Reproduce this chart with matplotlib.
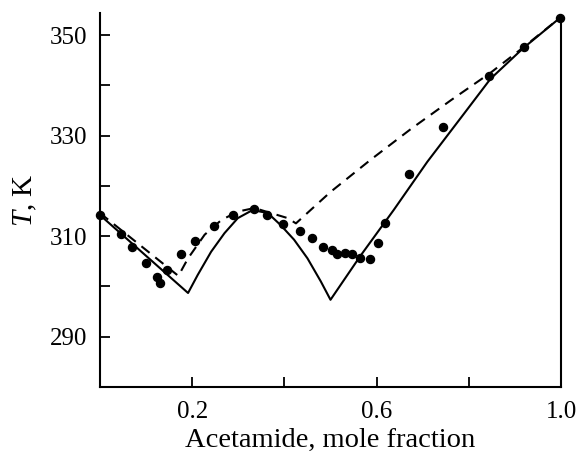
import matplotlib
matplotlib.use("Agg")
import matplotlib.pyplot as plt

# experimental points
exp_x = [0.0, 0.045, 0.070, 0.100, 0.124, 0.131, 0.146, 0.176, 0.205, 0.247,
         0.288, 0.335, 0.362, 0.398, 0.434, 0.459, 0.483, 0.503, 0.514, 0.531,
         0.547, 0.564, 0.586, 0.602, 0.618, 0.671, 0.744, 0.843, 0.920, 0.998]
exp_T = [314.3, 310.5, 307.9, 304.7, 301.9, 300.7, 303.2, 306.5, 309.1, 312.1,
         314.2, 315.4, 314.3, 312.4, 311.0, 309.7, 307.9, 307.2, 306.5, 306.6,
         306.4, 305.7, 305.4, 308.7, 312.6, 322.4, 331.8, 341.9, 347.7, 353.5]

# solid calculated liquidus
solid_x = [0.0, 0.191, 0.212, 0.241, 0.270, 0.299, 0.331, 0.364, 0.392, 0.421,
           0.450, 0.479, 0.500, 0.565, 0.637, 0.710, 0.789, 0.847, 0.918, 1.0]
solid_T = [314.2, 298.7, 302.3, 306.9, 310.6, 313.6, 315.2, 314.6, 312.2, 309.3,
           305.6, 301.0, 297.35, 306.1, 315.2, 324.8, 334.3, 341.3, 347.4, 353.6]

# dashed calculated liquidus
dash_x = [0.0, 0.170, 0.191, 0.227, 0.263, 0.299, 0.335, 0.371, 0.407, 0.425,
          0.500, 0.587, 0.674, 0.762, 0.847, 0.916, 1.0]
dash_T = [314.6, 302.1, 305.6, 310.3, 313.2, 314.9, 315.6, 314.6, 313.6, 312.55,
          318.8, 325.2, 331.3, 337.1, 342.5, 347.4, 353.6]

x_ticks = [0.2, 0.4, 0.6, 0.8, 1.0]
x_ticklabels = ["0.2", "", "0.6", "", "1.0"]
y_ticks = [290, 300, 310, 320, 330, 340, 350]
y_ticklabels = ["290", "", "310", "", "330", "", "350"]

plt.rcParams['font.family'] = ['Liberation Serif', 'DejaVu Serif']
plt.rcParams['mathtext.fontset'] = 'custom'
plt.rcParams['mathtext.it'] = 'Liberation Serif:italic'
plt.rcParams['mathtext.rm'] = 'Liberation Serif'

fig = plt.figure(figsize=(5.79, 4.58), dpi=100)
ax = fig.add_axes([100/579, 1-387/458, 461/579, 374/458])

ax.plot(solid_x, solid_T, color='black', lw=1.5)
ax.plot(dash_x, dash_T, color='black', lw=1.5, ls=(0, (5, 3.5)))
ax.plot(exp_x, exp_T, 'o', color='black', ms=5.8, clip_on=False, zorder=5)

ax.set_xlim(0.0, 1.0)
ax.set_ylim(280, 354.4)
ax.set_xticks(x_ticks)
ax.set_xticklabels(x_ticklabels)
ax.set_yticks(y_ticks)
ax.set_yticklabels(y_ticklabels)

ax.spines['top'].set_visible(False)
ax.spines['right'].set_bounds(280, solid_T[-1])
for s in ax.spines.values():
    s.set_linewidth(1.5)

ax.tick_params(direction='in', length=7, width=1.3, labelsize=18, pad=9)
ax.tick_params(axis='x', pad=10)

ax.set_xlabel("Acetamide, mole fraction", fontsize=20.5, labelpad=3.5)
ax.set_ylabel(r"$T$, K", fontsize=21, labelpad=8)

fig.savefig("out.png", dpi=100)
